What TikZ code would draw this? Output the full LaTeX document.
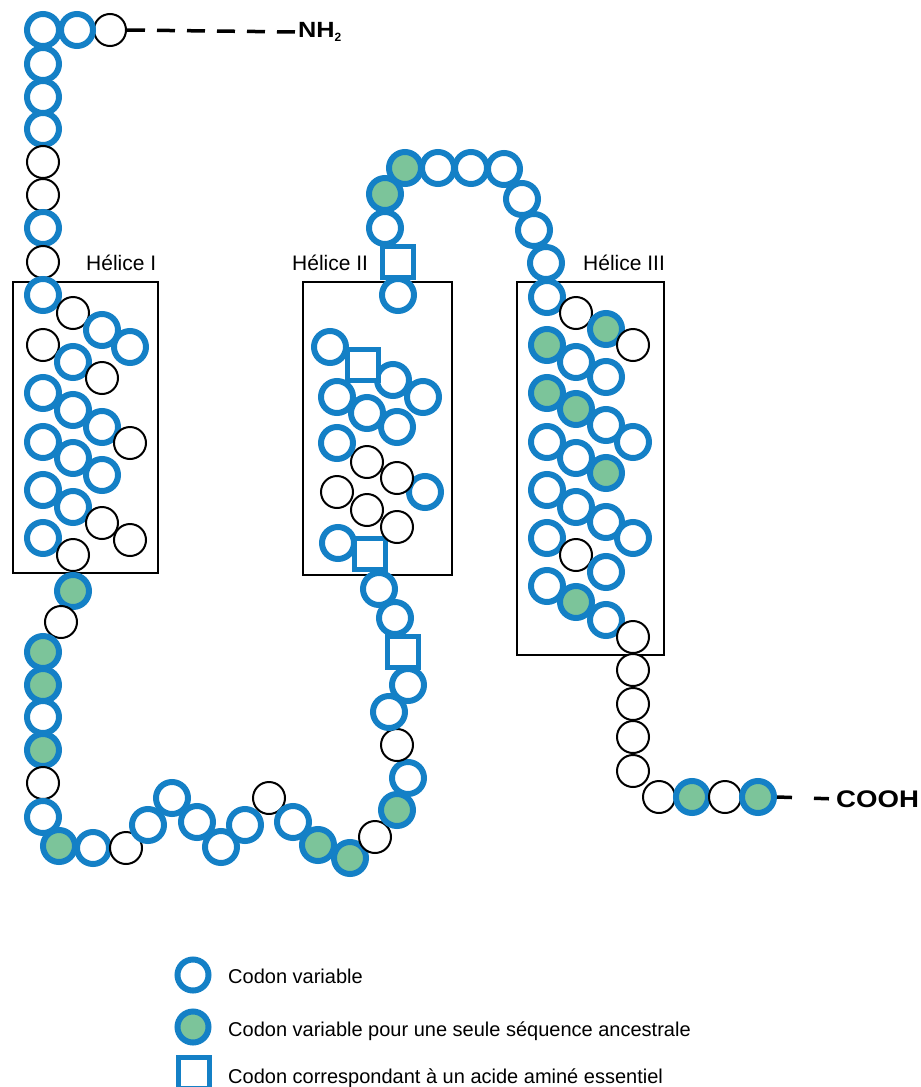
\documentclass[tikz,border=0pt]{standalone}
\usepackage{fontspec}
\setmainfont{Liberation Sans}
\definecolor{cblue}{RGB}{20,128,198}
\definecolor{cgreen}{RGB}{124,196,154}
\begin{document}
\begin{tikzpicture}[x=1pt,y=-1pt,
  base/.style={circle,inner sep=0pt,minimum size=32pt,fill=white},
  V/.style={base,draw=cblue,line width=6pt,minimum size=32pt},
  G/.style={V,fill=cgreen},
  K/.style={base,draw=black,line width=2pt},
  S/.style={rectangle,inner sep=0pt,minimum size=31pt,fill=white,draw=cblue,line width=5.5pt},
  helixbox/.style={draw=black,line width=1.6pt},
  lbl/.style={font=\fontsize{21}{21}\selectfont,anchor=base west,inner sep=0pt},
  leg/.style={font=\fontsize{20}{20}\selectfont,anchor=base west,inner sep=0pt},
  term/.style={anchor=west,inner sep=0pt},
  tail/.style={line width=3.5pt}]
\useasboundingbox (0,0) rectangle (921,1087);

% helix boxes
\draw[helixbox] (13,282) rectangle (158,573);
\draw[helixbox] (303,282) rectangle (452,575);
\draw[helixbox] (517,282) rectangle (664,655);

% N-terminal segment
\node[K] (nstart) at (110,30) {};
\foreach \t/\x/\y [count=\i] in {V/77/30, V/43/30, V/43/64, V/43/97, V/43/129, K/43/162, K/43/195, V/43/228, K/43/262}
  \node[\t] (a\i) at (\x,\y) {};

% helix I
\foreach \t/\x/\y [count=\i] in {V/43/295, K/73/313, V/102/330, V/130/347,
  K/43/345, V/73/362, K/102/378,
  V/43/393, V/73/410, V/102/427, K/130/443,
  V/43/442, V/73/458, V/102/475,
  V/43/490, V/73/507, K/102/523, K/130/540,
  V/43/538, K/73/555}
  \node[\t] (h\i) at (\x,\y) {};

% loop between helix I and II
\foreach \t/\x/\y [count=\i] in {G/73/591, K/61/622, G/43/652, G/43/685, V/43/717, G/43/750, K/43/783, V/43/817,
  G/59/846, V/93/848, K/126/848, V/148/825, V/172/798, V/197/822, V/221/847, V/245/825, K/269/798,
  V/293/822, G/318/845, G/350/858, K/375/837, G/397/810, V/408/778, K/397/745, V/389/712, V/408/685,
  S/403/652, V/395/618, V/379/589}
  \node[\t] (b\i) at (\x,\y) {};

% helix II
\foreach \t/\x/\y [count=\i] in {S/370/554, V/338/543, K/397/527, K/367/510, K/337/492, V/425/492,
  K/397/478, K/367/462, V/337/443, V/397/427, V/367/413, V/337/397, V/423/397, V/393/380,
  S/363/365, V/330/347}
  \node[\t] (c\i) at (\x,\y) {};

% arc between helix II and III
\foreach \t/\x/\y [count=\i] in {V/398/295, S/398/262, V/385/228, G/385/194, G/405/168, V/438/168,
  V/471/168, V/504/169, V/522/199, V/534/230, V/546/263}
  \node[\t] (d\i) at (\x,\y) {};

% helix III
\foreach \t/\x/\y [count=\i] in {V/547/297, K/576/313, G/606/329, K/633/345,
  G/547/345, V/576/362, V/606/377,
  G/547/393, G/576/409, V/606/425, V/633/442,
  V/547/442, V/576/458, G/606/473,
  V/547/490, V/576/507, V/606/522, V/633/538,
  V/547/538, K/576/555, V/606/572,
  V/547/586, G/576/602, V/606/620, K/633/637}
  \node[\t] (e\i) at (\x,\y) {};

% C-terminal segment
\foreach \t/\x/\y [count=\i] in {K/633/670, K/633/704, K/633/737, K/633/771, K/659/797, G/692/797, K/725/797}
  \node[\t] (f\i) at (\x,\y) {};
\node[G] (cend) at (758,797) {};

% termini
\node[term] (nh2) at (298,32) {\bfseries\scalebox{1.15}[1]{\fontsize{22}{22}\selectfont NH}\raisebox{-3.5pt}{\fontsize{12}{12}\selectfont 2}};
\node[term] (cooh) at (836,799) {\bfseries\scalebox{1.15}[1]{\fontsize{24}{24}\selectfont COOH}};
\draw[tail,dash pattern=on 18pt off 12pt] (nstart.east) -- (nh2.west);
\draw[tail,dash pattern=on 15pt off 22pt] (cend.east) -- (cooh.west);

% helix labels
\node[lbl] (l1) at (86,270) {Hélice I};
\node[lbl] (l2) at (292,270) {Hélice II};
\node[lbl] (l3) at (583,270) {Hélice III};

% legend
\node[V,minimum size=31pt] (k1) at (193,975) {};
\node[leg] (t1) at (228,983) {Codon variable};
\node[G,minimum size=31pt] (k2) at (193,1027) {};
\node[leg] (t2) at (228,1036) {Codon variable pour une seule séquence ancestrale};
\node[S,minimum size=31pt] (k3) at (194,1073) {};
\node[leg] (t3) at (228,1083) {Codon correspondant à un acide aminé essentiel};
\end{tikzpicture}
\end{document}
